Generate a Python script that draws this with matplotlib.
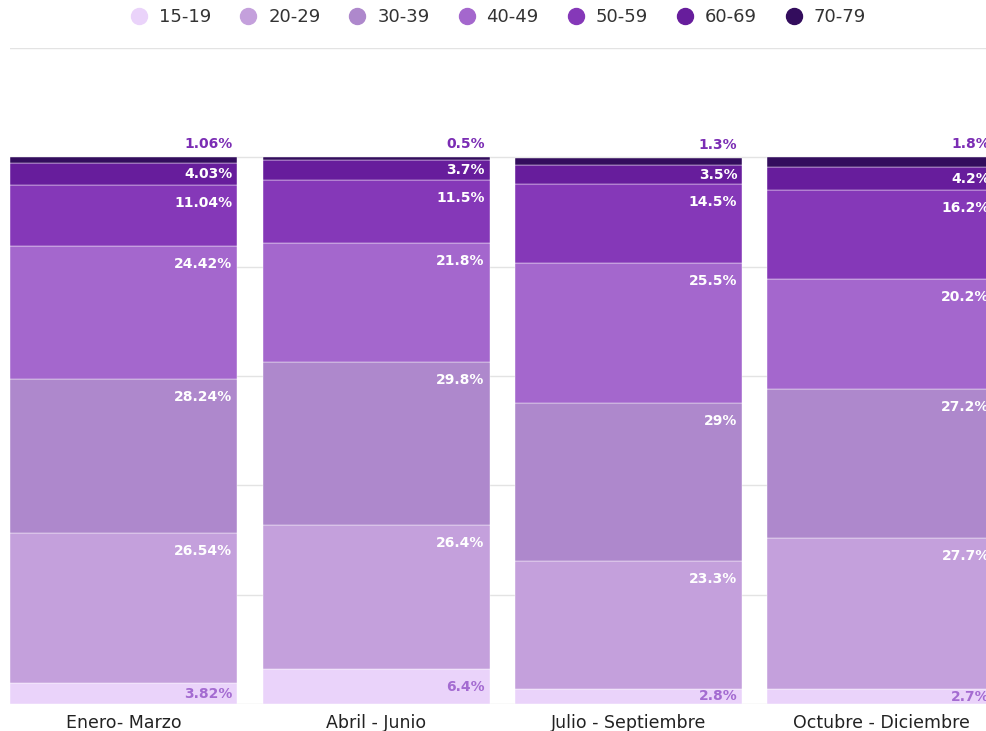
import matplotlib.pyplot as plt
from matplotlib.lines import Line2D
import numpy as np

# --- Datos ---
trimestres = ['Enero- Marzo', 'Abril - Junio', 'Julio - Septiembre', 'Octubre - Diciembre']
edades = ['15-19', '20-29', '30-39', '40-49', '50-59', '60-69', '70-79']

# altura de cada tramo por grupo de edad, un valor por trimestre
valores = {
    '15-19': [3.82, 6.4, 2.8, 2.7],
    '20-29': [27.39, 26.4, 23.3, 27.7],
    '30-39': [28.24, 29.8, 29.0, 27.2],
    '40-49': [24.42, 21.8, 25.5, 20.2],
    '50-59': [11.04, 11.5, 14.5, 16.2],
    '60-69': [4.03, 3.7, 3.5, 4.2],
    '70-79': [1.06, 0.5, 1.3, 1.8],
}
# texto de las etiquetas
etiquetas = {
    '15-19': ['3.82%', '6.4%', '2.8%', '2.7%'],
    '20-29': ['26.54%', '26.4%', '23.3%', '27.7%'],
    '30-39': ['28.24%', '29.8%', '29%', '27.2%'],
    '40-49': ['24.42%', '21.8%', '25.5%', '20.2%'],
    '50-59': ['11.04%', '11.5%', '14.5%', '16.2%'],
    '60-69': ['4.03%', '3.7%', '3.5%', '4.2%'],
    '70-79': ['1.06%', '0.5%', '1.3%', '1.8%'],
}
colores = ['#ead3fa', '#c4a0dc', '#ae88cc', '#a467cd', '#8538b8', '#671d9c', '#330d5d']

# --- Figura ---
fig = plt.figure(figsize=(9.86, 7.31), dpi=100)
W, H = 986, 731
x0, y0, y1 = 10, 704, 48
px_cat = 252.5
xmin, xmax = -0.45, 3.5
ax = fig.add_axes([x0 / W, (H - y0) / H, (xmax - xmin) * px_cat / W, (y0 - y1) / H])

x = np.arange(len(trimestres))
ancho = 0.9
base = np.zeros(len(trimestres))
px_unit = (y0 - y1) / 120.0
off = 18 / px_unit

for k, edad in enumerate(edades):
    v = np.array(valores[edad])
    ax.bar(x, v, ancho, bottom=base, color=colores[k], edgecolor='white',
           linewidth=0.3, zorder=2)
    for i in range(len(x)):
        top = base[i] + v[i]
        xr = x[i] + ancho / 2 - 5 / px_cat
        if edad == '15-19':
            ax.text(xr, base[i] + v[i] / 2, etiquetas[edad][i], ha='right', va='center',
                    color='#a46bd1', fontsize=10, fontweight='bold', zorder=3)
        elif edad == '70-79':
            ax.text(xr, top + 13 / px_unit, etiquetas[edad][i], ha='right', va='center',
                    color='#7b2db4', fontsize=10, fontweight='bold', zorder=3)
        else:
            ax.text(xr, top - min(off, v[i] / 2), etiquetas[edad][i], ha='right', va='center',
                    color='white', fontsize=10, fontweight='bold', zorder=3)
    base += v

ax.set_xlim(xmin, xmax)
ax.set_ylim(0, 120)
ax.set_yticks(np.arange(0, 121, 20))
ax.set_yticklabels([])
ax.grid(axis='y', color='#e3e3e3', linewidth=1, zorder=0)
ax.set_axisbelow(True)
ax.set_xticks(x)
ax.set_xticklabels(trimestres, fontsize=12.5, color='#222222')
ax.tick_params(axis='both', length=0, pad=7)
for s in ax.spines.values():
    s.set_visible(False)

# --- Leyenda ---
handles = [Line2D([0], [0], marker='o', linestyle='none', markersize=11.5,
                  markerfacecolor=c, markeredgecolor=c) for c in colores]
fig.legend(handles, edades, loc='center', bbox_to_anchor=(498 / W, 1 - 17 / H), ncol=7,
           frameon=False, fontsize=13, handlelength=1, handletextpad=0.6,
           columnspacing=1.55, labelcolor='#333333')

fig.savefig('out.png', dpi=100)
